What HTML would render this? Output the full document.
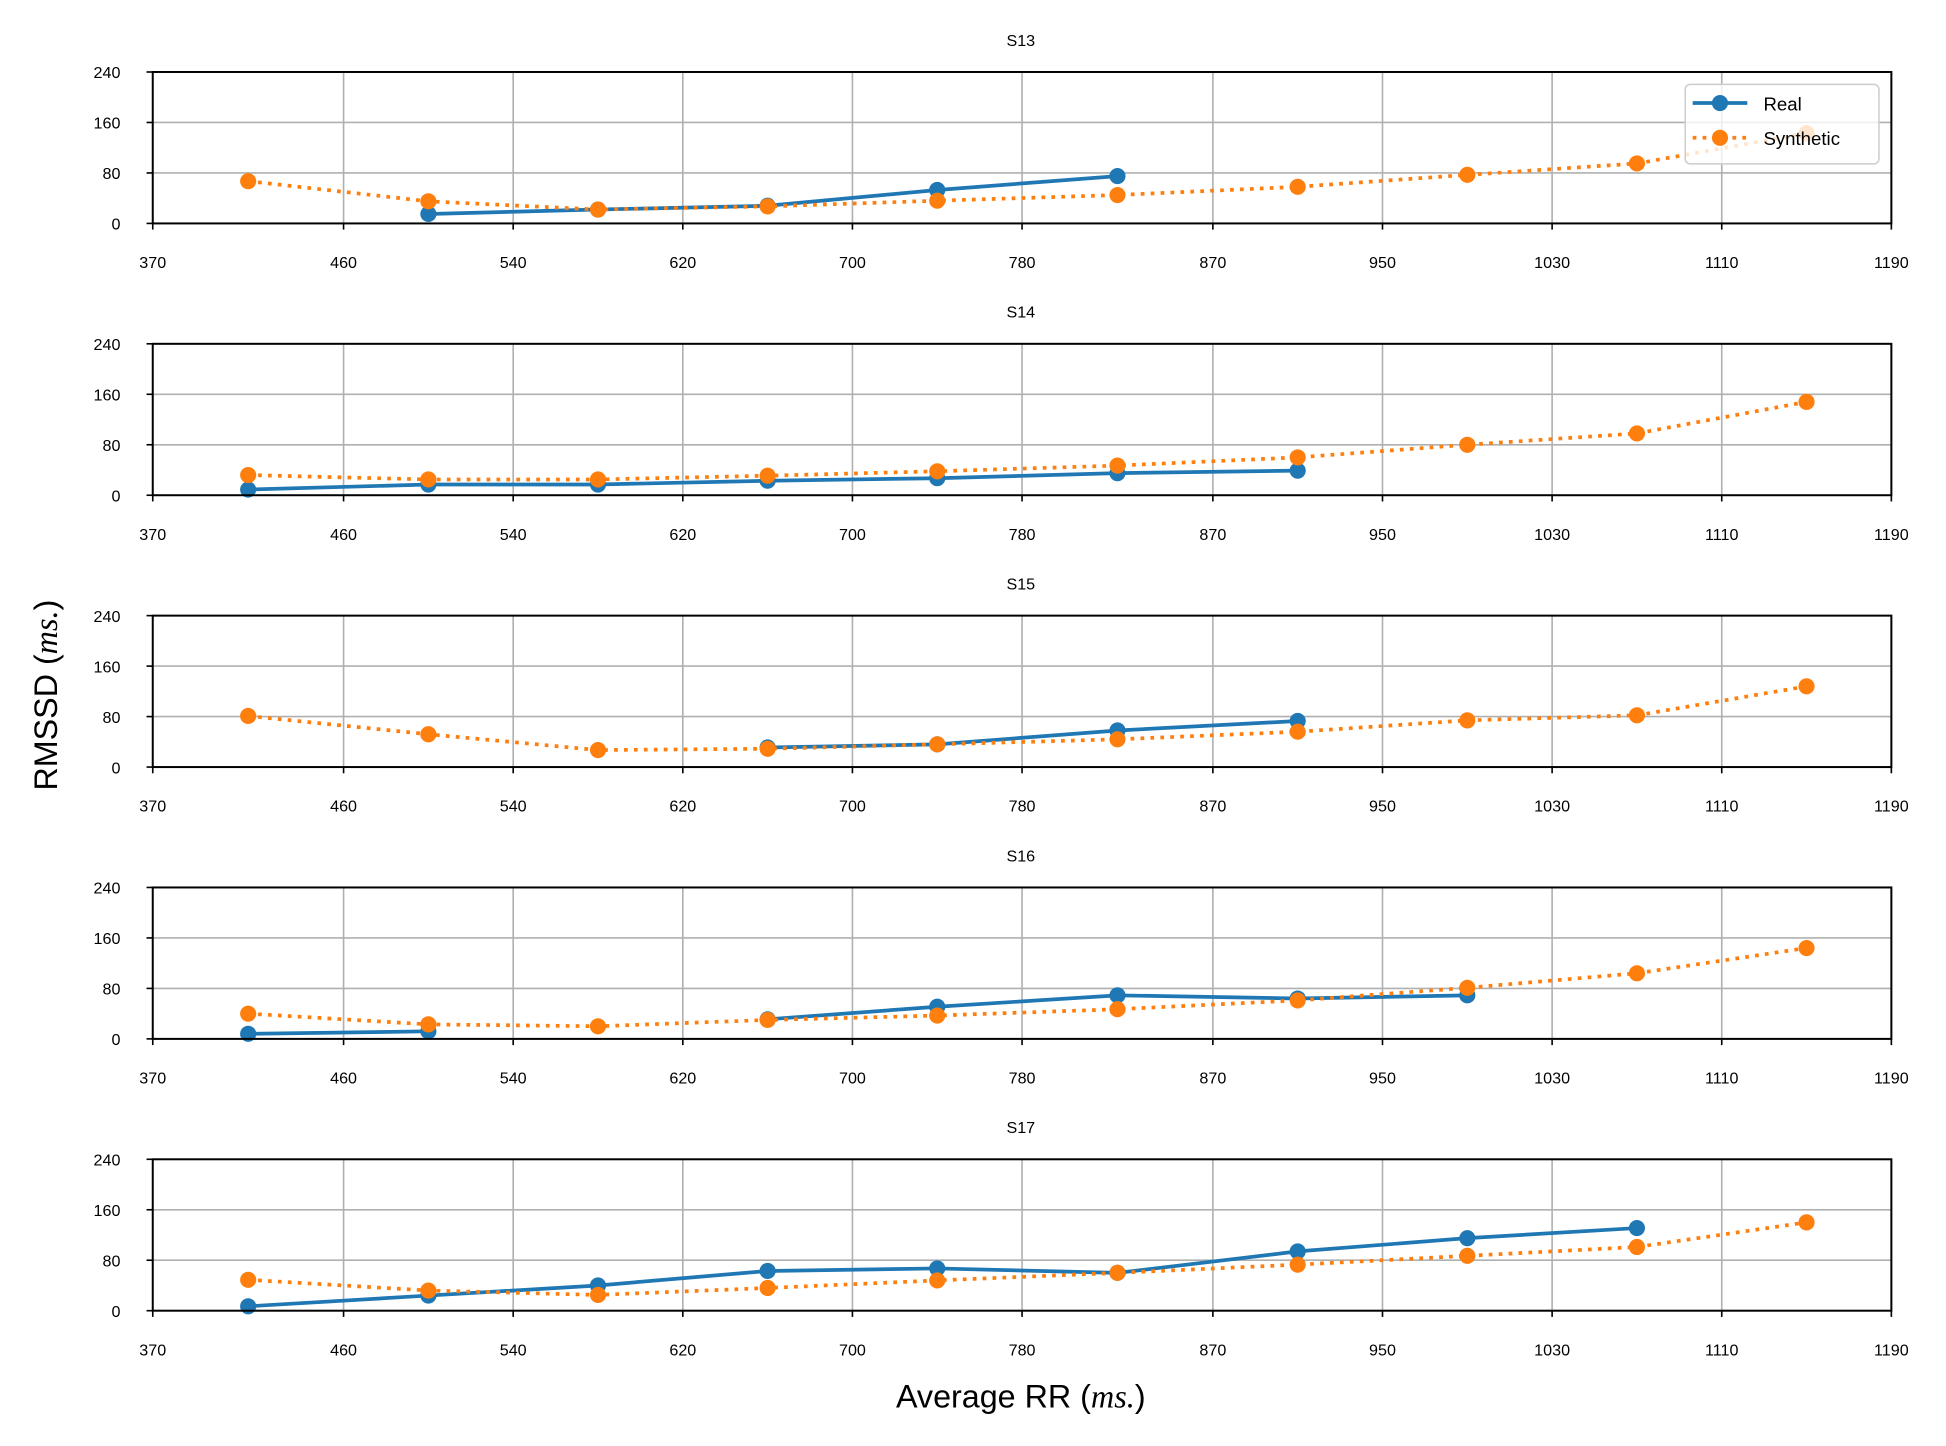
<!DOCTYPE html>
<html><head><meta charset="utf-8"><style>
html,body{margin:0;padding:0;background:#fff;}
svg{display:block;font-family:"Liberation Sans","DejaVu Sans",sans-serif;}
</style></head><body>
<svg id="chart" width="1946" height="1446" viewBox="0 0 1567 1165" preserveAspectRatio="none" xmlns="http://www.w3.org/2000/svg">
<text transform="translate(46,560) rotate(-90)" text-anchor="middle" font-size="26">RMSSD (<tspan font-style="italic" font-family="Liberation Serif,serif">ms.</tspan>)</text>
<text x="822" y="1134" text-anchor="middle" font-size="26">Average RR (<tspan font-style="italic" font-family="Liberation Serif,serif">ms.</tspan>)</text>
</svg>
<script>
const subjects = ["S13","S14","S15","S16","S17"];
const xValues = [415,500,580,660,740,825,910,990,1070,1150];
const xTicks = [370,460,540,620,700,780,870,950,1030,1110,1190];
const yTicks = [0,80,160,240];
const realS13 = [null,15,22,28,53,75,null,null,null,null];
const realS14 = [9,17,17,23,27,35,39,null,null,null];
const realS15 = [null,null,null,31,36,58,73,null,null,null];
const realS16 = [8,12,null,31,51,69,64,69,null,null];
const realS17 = [7,24,40,63,67,60,94,115,131,null];
const synS13 = [67,35,22,27,36,45,58,77,95,143];
const synS14 = [32,25,25,31,38,47,60,80,98,148];
const synS15 = [81,52,27,29,36,44,56,74,82,128];
const synS16 = [40,23,20,30,37,47,61,81,104,144];
const synS17 = [49,32,25,36,48,60,73,87,101,140];
const realAll=[realS13,realS14,realS15,realS16,realS17];
const synAll=[synS13,synS14,synS15,synS16,synS17];
const NS="http://www.w3.org/2000/svg";
const svg=document.getElementById('chart');
const L=123,R=1523,H=122,tops=[58,277,496,715,934];
function sx(v){return L+(v-370)/(1190-370)*(R-L);}
function mk(tag,attrs,parent){const e=document.createElementNS(NS,tag);for(const k in attrs)e.setAttribute(k,attrs[k]);(parent||svg).appendChild(e);return e;}
subjects.forEach((s,i)=>{
  const top=tops[i],bot=top+H;
  const sy=v=>bot-v/240*H;
  const g=mk('g',{});
  
  
  const t=mk('text',{x:822,y:top-21,'text-anchor':'middle','font-size':13},g);t.textContent=s;
  
  
  xTicks.forEach(v=>{
    const gl=mk('line',{x1:sx(v),x2:sx(v),y1:top,y2:bot,stroke:'#b0b0b0','stroke-width':1.3},g);
    
    
    mk('line',{x1:sx(v),x2:sx(v),y1:bot,y2:bot+5,stroke:'#000','stroke-width':1.3},g);
    const tl=mk('text',{x:sx(v),y:bot+36,'text-anchor':'middle','font-size':13},g);tl.textContent=v;
    
    
  });
  yTicks.forEach(v=>{
    const gl=mk('line',{x1:L,x2:R,y1:sy(v),y2:sy(v),stroke:'#b0b0b0','stroke-width':1.3},g);
    
    
    mk('line',{x1:L-5,x2:L,y1:sy(v),y2:sy(v),stroke:'#000','stroke-width':1.3},g);
    const tl=mk('text',{x:L-26,y:sy(v)+5,'text-anchor':'end','font-size':13},g);tl.textContent=v;
    
    
  });
  function series(vals,color,dash,name){
    let segs=[],cur=[];
    vals.forEach((v,j)=>{if(v==null){if(cur.length)segs.push(cur);cur=[];}else cur.push(sx(xValues[j])+','+sy(v));});
    if(cur.length)segs.push(cur);
    segs.forEach(sg=>{
      const p=mk('polyline',{points:sg.join(' '),fill:'none',stroke:color,'stroke-width':3,'stroke-dasharray':dash||'none','stroke-linecap':dash?'butt':'round'},g);
      
      
    });
    vals.forEach((v,j)=>{if(v==null)return;
      const c=mk('circle',{cx:sx(xValues[j]),cy:sy(v),r:6.5,fill:color},g);
      
      
    });
  }
  series(realAll[i],'#1f77b4',null,'real');
  series(synAll[i],'#ff7f0e','3,5','synthetic');
  const fr=mk('rect',{x:L,y:top,width:R-L,height:H,fill:'none',stroke:'#000','stroke-width':1.6},g);
  
  
});
const lg=mk('g',{});


mk('rect',{x:1357,y:68,width:156,height:64,rx:4,fill:'#fff','fill-opacity':0.8,stroke:'#ccc','stroke-width':1.2},lg);
mk('line',{x1:1363,x2:1407,y1:83,y2:83,stroke:'#1f77b4','stroke-width':3},lg);
mk('circle',{cx:1385,cy:83,r:6.5,fill:'#1f77b4'},lg);
const t1=mk('text',{x:1420,y:89,'font-size':15},lg);t1.textContent='Real';


mk('line',{x1:1363,x2:1407,y1:111,y2:111,stroke:'#ff7f0e','stroke-width':3,'stroke-dasharray':'3,5'},lg);
mk('circle',{cx:1385,cy:111,r:6.5,fill:'#ff7f0e'},lg);
const t2=mk('text',{x:1420,y:117,'font-size':15},lg);t2.textContent='Synthetic';


</script>
</body></html>
